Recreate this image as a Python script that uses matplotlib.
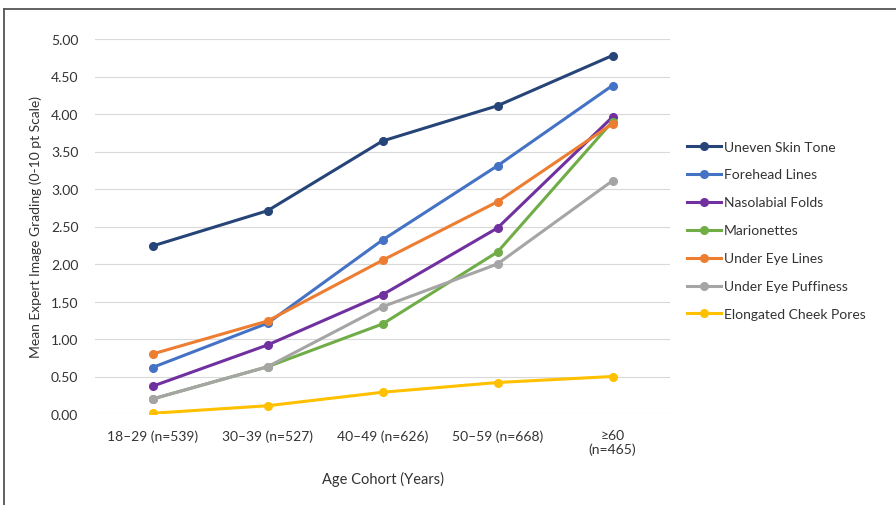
import matplotlib.pyplot as plt
from matplotlib.lines import Line2D

plt.rcParams['font.family'] = ['Lato', 'DejaVu Sans']

cohorts = ['18–29 (n=539)', '30–39 (n=527)', '40–49 (n=626)', '50–59 (n=668)', '≥60\n(n=465)']

uneven_skin_tone = [2.24, 2.71, 3.64, 4.11, 4.78]
forehead_lines = [0.62, 1.21, 2.32, 3.31, 4.38]
nasolabial_folds = [0.37, 0.92, 1.59, 2.48, 3.96]
marionettes = [0.20, 0.63, 1.20, 2.16, 3.90]
under_eye_lines = [0.80, 1.24, 2.05, 2.83, 3.87]
under_eye_puffiness = [0.20, 0.63, 1.43, 2.00, 3.11]
cheek_pores = [0.01, 0.11, 0.29, 0.42, 0.50]

series = [
    ('Uneven Skin Tone', uneven_skin_tone, '#264478'),
    ('Forehead Lines', forehead_lines, '#4472C4'),
    ('Nasolabial Folds', nasolabial_folds, '#7030A0'),
    ('Marionettes', marionettes, '#70AD47'),
    ('Under Eye Lines', under_eye_lines, '#ED7D31'),
    ('Under Eye Puffiness', under_eye_puffiness, '#A5A5A5'),
    ('Elongated Cheek Pores', cheek_pores, '#FFC000'),
]

fig = plt.figure(figsize=(8.96, 5.06), dpi=100)
ax = fig.add_axes([95 / 896, 1 - 415 / 506, 575 / 896, 375 / 506])

x = list(range(len(cohorts)))
for name, vals, col in series:
    ax.plot(x, vals, color=col, lw=2.2, marker='o', ms=5.5, label=name, zorder=3)

ax.set_xlim(-0.5, len(cohorts) - 0.5)
ax.set_ylim(0, 5)
ax.set_yticks([i * 0.5 for i in range(11)])
ax.set_yticklabels([f'{i * 0.5:.2f}' for i in range(11)])
ax.set_xticks(x)
ax.set_xticklabels(cohorts, linespacing=1.15)
ax.grid(axis='y', color='#d9d9d9', lw=0.8)
ax.set_axisbelow(True)
for s in ax.spines.values():
    s.set_visible(False)
ax.tick_params(length=0, labelsize=10, colors='#333333', pad=11)
ax.tick_params(axis='y', pad=12)

ax.set_xlabel('Age Cohort (Years)', fontsize=10.5, color='#333333', labelpad=11)
ax.set_ylabel('Mean Expert Image Grading (0-10 pt Scale)', fontsize=10, color='#333333', labelpad=6)

handles = [Line2D([0], [0], color=col, lw=2.2, marker='o', ms=5.5) for _, _, col in series]
leg = fig.legend(handles, [n for n, _, _ in series], loc='upper left',
                 bbox_to_anchor=(674 / 896, 1 - 129 / 506), frameon=False,
                 fontsize=10, handlelength=2.5, handletextpad=0.2, labelspacing=1.15)
for t in leg.get_texts():
    t.set_color('#333333')

# outer frame (top and left edges)
fig.add_artist(Line2D([4 / 896, 4 / 896], [0, 1 - 10 / 506], transform=fig.transFigure, color='#555555', lw=1.3))
fig.add_artist(Line2D([4 / 896, 1], [1 - 10 / 506, 1 - 10 / 506], transform=fig.transFigure, color='#555555', lw=1.3))

fig.savefig('out.png', dpi=100)
